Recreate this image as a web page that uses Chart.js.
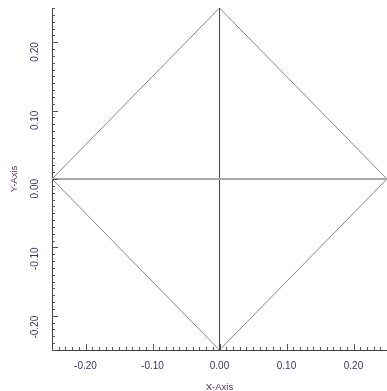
<!DOCTYPE html>
<html>
<head>
<meta charset="utf-8">
<script src="https://cdn.jsdelivr.net/npm/chart.js@4/dist/chart.umd.min.js"></script>
<style>
  html, body { margin: 0; padding: 0; background: #fff; }
  #wrap { width: 387px; height: 391px; }
</style>
</head>
<body>
<div id="wrap"><canvas id="chart"></canvas></div>
<script>
// diamond outline, closed back to the top vertex
const diamondX = [0, 0.25, 0, -0.25, 0];
const diamondY = [0.25, 0, -0.25, 0, 0.25];
// the two cross lines
const horizX = [-0.25, 0.25];
const horizY = [0, 0];
const vertX = [0, 0];
const vertY = [-0.25, 0.25];
const tickLabels = ['-0.20', '-0.10', '0.00', '0.10', '0.20'];

const toPoints = (xs, ys) => xs.map((x, i) => ({ x: x, y: ys[i] }));

const tickColor = '#3d3468';
const titleColor = '#5c2a55';
const fontFamily = 'Liberation Sans, Arial, sans-serif';

function label(value) {
  const v = Math.round(value * 100);
  if (v % 10 !== 0) return '';
  const s = (v / 100).toFixed(2);
  return tickLabels.includes(s) ? s : '';
}

// inward tick marks, longer on the labelled ones
const innerTicks = {
  id: 'innerTicks',
  afterDraw(chart) {
    const ctx = chart.ctx;
    const xs = chart.scales.x, ys = chart.scales.y;
    ctx.save();
    ctx.strokeStyle = '#555';
    ctx.lineWidth = 1;
    ctx.beginPath();
    xs.ticks.forEach(t => {
      const px = Math.round(xs.getPixelForValue(t.value)) + 0.5;
      const len = label(t.value) ? 6 : 3;
      ctx.moveTo(px, xs.top);
      ctx.lineTo(px, xs.top - len);
    });
    ys.ticks.forEach(t => {
      const py = Math.round(ys.getPixelForValue(t.value)) + 0.5;
      const len = label(t.value) ? 6 : 3;
      ctx.moveTo(ys.right, py);
      ctx.lineTo(ys.right + len, py);
    });
    ctx.stroke();
    ctx.restore();
  }
};

const ctx = document.getElementById('chart').getContext('2d');
new Chart(ctx, {
  type: 'scatter',
  data: {
    datasets: [
      {
        data: toPoints(horizX, horizY),
        showLine: true,
        borderColor: '#aaaaaa',
        borderWidth: 2,
        pointRadius: 0
      },
      {
        data: toPoints(vertX, vertY),
        showLine: true,
        borderColor: '#444444',
        borderWidth: 1,
        pointRadius: 0
      },
      {
        data: toPoints(diamondX, diamondY),
        showLine: true,
        borderColor: '#888888',
        borderWidth: 1,
        pointRadius: 0
      }
    ]
  },
  options: {
    responsive: true,
    maintainAspectRatio: false,
    animation: false,
    layout: { autoPadding: false, padding: { top: 8, right: 0, left: 0, bottom: 0 } },
    plugins: {
      legend: { display: false },
      tooltip: { enabled: false }
    },
    scales: {
      x: {
        type: 'linear',
        min: -0.25,
        max: 0.25,
        grid: { display: false },
        border: { display: true, color: '#444', width: 1 },
        ticks: {
          stepSize: 0.01,
          autoSkip: false,
          maxTicksLimit: 100,
          maxRotation: 0,
          minRotation: 0,
          padding: 2,
          color: tickColor,
          font: { family: fontFamily, size: 10 },
          callback: label
        },
        title: {
          display: true,
          text: 'X-Axis',
          color: titleColor,
          padding: { top: 0, bottom: -2 },
          font: { family: fontFamily, size: 9.5 }
        },
        afterFit(scale) {
          scale.height = 41;
          scale.paddingLeft = 0;
          scale.paddingRight = 0;
        }
      },
      y: {
        type: 'linear',
        min: -0.25,
        max: 0.25,
        grid: { display: false },
        border: { display: true, color: '#444', width: 1 },
        ticks: {
          stepSize: 0.01,
          autoSkip: false,
          maxTicksLimit: 100,
          minRotation: 90,
          maxRotation: 90,
          padding: 9,
          crossAlign: 'near',
          color: tickColor,
          font: { family: fontFamily, size: 10 },
          callback: label
        },
        title: {
          display: true,
          text: 'Y-Axis',
          color: titleColor,
          padding: { top: 9, bottom: 0 },
          font: { family: fontFamily, size: 9.5 }
        },
        afterFit(scale) {
          scale.width = 52;
          scale.paddingTop = 0;
          scale.paddingBottom = 0;
        }
      }
    }
  },
  plugins: [innerTicks]
});
</script>
</body>
</html>
